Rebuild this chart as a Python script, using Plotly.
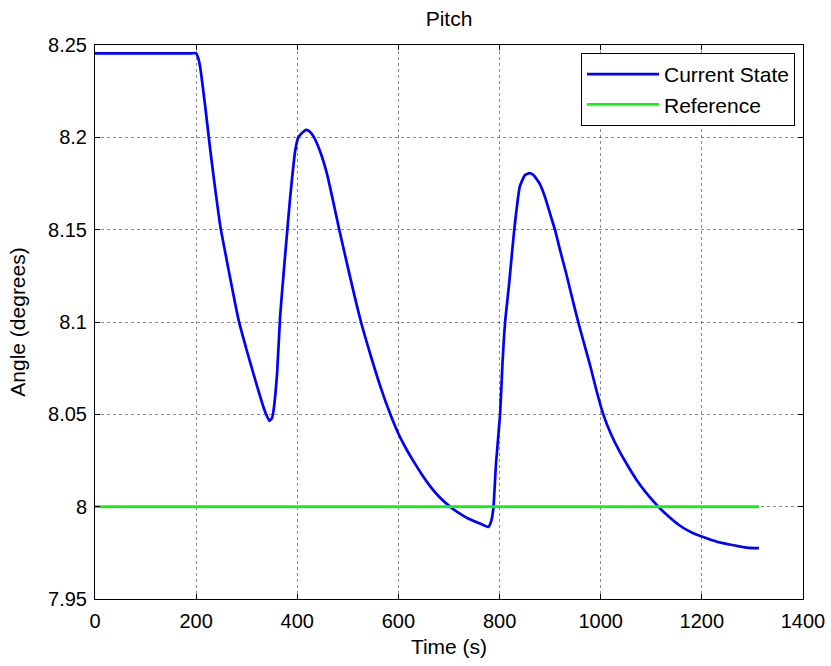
import plotly.graph_objects as go

# Current State (pitch angle, degrees)
time_s = [0, 100, 190, 200, 204, 208, 218, 228, 238, 248, 258, 268, 284, 300, 317, 333,
          340, 345, 350, 353, 360, 366, 373, 380, 386, 396, 402, 408, 414, 418, 425, 432,
          445, 458, 470, 483, 498, 512, 526, 545, 565, 584, 600, 615, 630, 645, 663, 680,
          702, 720, 735, 755, 770, 778, 782, 785, 788, 793, 801, 806, 811, 819, 829, 840,
          850, 859, 866, 873, 880, 890, 900, 910, 920, 932, 944, 956, 968, 980, 992, 1005,
          1020, 1038, 1055, 1071, 1090, 1114, 1135, 1156, 1180, 1200, 1230, 1255, 1285, 1313]
current_state = [8.2455, 8.2455, 8.2455, 8.2455, 8.243, 8.238, 8.2166, 8.193, 8.1714, 8.1515,
                 8.137, 8.1227, 8.101, 8.0847, 8.0685, 8.054, 8.049, 8.0465, 8.048, 8.052,
                 8.072, 8.1027, 8.1265, 8.149, 8.1677, 8.193, 8.2, 8.202, 8.2035, 8.204,
                 8.203, 8.2005, 8.1925, 8.181, 8.1665, 8.15, 8.132, 8.1155, 8.1, 8.082,
                 8.0645, 8.05, 8.0395, 8.0315, 8.0245, 8.018, 8.011, 8.0055, 8.0, 7.9965,
                 7.994, 7.9915, 7.9898, 7.989, 7.991, 7.994, 8.0, 8.0235, 8.05, 8.079, 8.1,
                 8.121, 8.15, 8.1733, 8.1795, 8.1806, 8.1798, 8.1775, 8.1745, 8.1675, 8.1585,
                 8.1495, 8.1385, 8.126, 8.1125, 8.0995, 8.0875, 8.0755, 8.0625, 8.05, 8.0395,
                 8.0295, 8.0215, 8.0145, 8.0075, 8.0, 7.9945, 7.9898, 7.986, 7.9838, 7.981,
                 7.9795, 7.978, 7.9775]

# Reference
ref_time = [0, 1313]
ref_value = [8.0, 8.0]

x_ticks = [0, 200, 400, 600, 800, 1000, 1200, 1400]
y_ticks = [7.95, 8.0, 8.05, 8.1, 8.15, 8.2, 8.25]
y_ticktext = ["7.95", "8", "8.05", "8.1", "8.15", "8.2", "8.25"]

FONT = "Arial, 'Liberation Sans', sans-serif"

fig = go.Figure()
fig.add_trace(go.Scatter(x=time_s, y=current_state, mode="lines", name="Current State",
                         line=dict(color="#0000ff", width=2.7, shape="spline", smoothing=0.5)))
fig.add_trace(go.Scatter(x=ref_time, y=ref_value, mode="lines", name="Reference",
                         line=dict(color="#00ff00", width=2.7)))

axis_common = dict(
    showline=True, linecolor="black", linewidth=1, mirror="ticks",
    ticks="inside", ticklen=5, tickcolor="black", tickwidth=1,
    showgrid=True, gridcolor="rgba(0,0,0,0.45)", griddash="dot", gridwidth=1,
    zeroline=False,
    tickfont=dict(family=FONT, size=20, color="black"),
)

fig.update_layout(
    width=831, height=666,
    margin=dict(l=95, r=28, t=45, b=67, autoexpand=False),
    paper_bgcolor="white", plot_bgcolor="white",
    font=dict(family=FONT, color="black"),
    title=dict(text="Pitch", font=dict(family=FONT, size=21, color="black"),
               x=0.5, xref="paper", xanchor="center",
               y=1 - 19 / 666, yref="container", yanchor="middle"),
    xaxis=dict(range=[0, 1400], tickvals=x_ticks, ticklabelstandoff=4,
               title=dict(text="Time (s)", font=dict(family=FONT, size=21), standoff=8),
               **axis_common),
    yaxis=dict(range=[7.95, 8.25], tickvals=y_ticks, ticktext=y_ticktext, ticklabelstandoff=3,
               title=dict(text="Angle (degrees)", font=dict(family=FONT, size=21), standoff=16),
               **axis_common),
    legend=dict(x=0.9887, y=0.9856, xanchor="right", yanchor="top",
                bgcolor="white", bordercolor="black", borderwidth=1,
                font=dict(family=FONT, size=21, color="black"),
                itemwidth=72, tracegroupgap=0),
    showlegend=True,
)

fig.write_html("out.html", config={"displayModeBar": False},
               post_script="document.body.style.margin='0px';")
